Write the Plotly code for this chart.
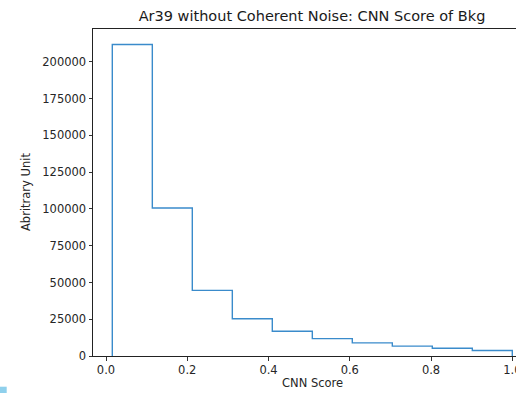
import plotly.graph_objects as go

# Histogram (step) of CNN score for background
bin_edges = [0.0155, 0.1140, 0.2124, 0.3109, 0.4093, 0.5078, 0.6062, 0.7047, 0.8031, 0.9016, 1.0]
bin_counts = [211800, 100700, 44600, 25300, 16800, 11800, 8900, 6700, 5300, 3700]

x_ticks = [0.0, 0.2, 0.4, 0.6, 0.8, 1.0]
y_ticks = [0, 25000, 50000, 75000, 100000, 125000, 150000, 175000, 200000]

title_text = "Ar39 without Coherent Noise: CNN Score of Bkg"
x_label = "CNN Score"
y_label = "Abritrary Unit"

# step outline: start at baseline, rise, steps across, drop at the end
xs = [bin_edges[0]] + bin_edges[:-1] + [bin_edges[-1]]
ys = [0] + bin_counts + [0]

W, H = 516, 393
ML, MR, MT, MB = 93, 0, 29, 37
PW, PH = W - ML - MR, H - MT - MB

def px_to_paper_x(px):
    return (px - ML) / PW

def px_to_paper_y(py):
    return (H - MB - py) / PH

fig = go.Figure()
fig.add_trace(go.Scatter(
    x=xs, y=ys, mode="lines", line=dict(color="#3a8bcb", width=1.4, shape="hv"),
    hoverinfo="skip", showlegend=False,
))

font_family = "DejaVu Sans, sans-serif"
tick_font = dict(family=font_family, size=11.5, color="#262626")

ymax = max(bin_counts) * 1.05

fig.update_layout(
    width=W, height=H,
    margin=dict(l=ML, r=MR, t=MT, b=MB, autoexpand=False),
    plot_bgcolor="white", paper_bgcolor="white",
    showlegend=False,
    xaxis=dict(
        range=[(93 - 106) / 406.3, (516 - 106) / 406.3],
        tickvals=x_ticks, ticktext=[f"{v:.1f}" for v in x_ticks],
        ticks="outside", ticklen=3.5, tickwidth=1, tickcolor="#333333",
        showgrid=False, zeroline=False,
        showline=True, linecolor="#222222", linewidth=1, mirror=True,
        tickfont=tick_font, automargin=False, ticklabeloverflow="allow",
    ),
    yaxis=dict(
        range=[0, ymax],
        tickvals=y_ticks, ticktext=[str(v) for v in y_ticks],
        ticks="outside", ticklen=3.5, tickwidth=1, tickcolor="#333333",
        showgrid=False, zeroline=False,
        showline=True, linecolor="#222222", linewidth=1, mirror=False,
        tickfont=tick_font, automargin=False,
    ),
    title=dict(
        text=title_text, xref="paper", x=px_to_paper_x(312), xanchor="center",
        yref="container", y=1 - 16 / H, yanchor="middle",
        font=dict(family=font_family, size=14.5, color="#1a1a1a"),
    ),
)

fig.add_annotation(
    text=y_label, textangle=-90, xref="paper", yref="paper",
    x=px_to_paper_x(26), y=px_to_paper_y(192), xanchor="center", yanchor="middle",
    showarrow=False, font=dict(family=font_family, size=11.5, color="#262626"),
)
fig.add_annotation(
    text=x_label, xref="paper", yref="paper",
    x=px_to_paper_x(312), y=px_to_paper_y(383), xanchor="center", yanchor="middle",
    showarrow=False, font=dict(family=font_family, size=11.5, color="#262626"),
)

# small light-blue square at bottom-left corner of the screenshot
fig.add_shape(
    type="rect", xref="paper", yref="paper",
    x0=px_to_paper_x(0), x1=px_to_paper_x(6.7),
    y0=px_to_paper_y(386.7), y1=px_to_paper_y(394),
    fillcolor="#8fd0ec", line=dict(width=0), layer="above",
)

fig.write_html(
    "out.html",
    config={"displayModeBar": False},
    post_script="document.body.style.margin='0';document.body.style.padding='0';"
                "document.body.style.overflow='hidden';",
)
